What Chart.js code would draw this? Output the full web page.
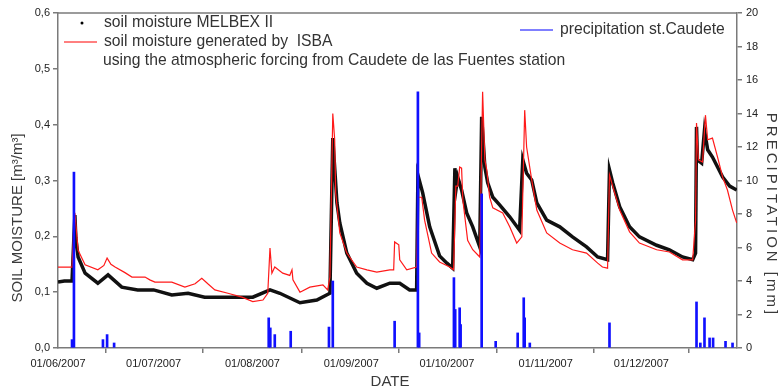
<!DOCTYPE html>
<html>
<head>
<meta charset="utf-8">
<script src="https://cdn.jsdelivr.net/npm/chart.js@4.4.0/dist/chart.umd.min.js"></script>
<style>
  html, body { margin: 0; padding: 0; background: #fff; }
  canvas { display: block; }
</style>
</head>
<body>
<canvas id="chart" width="781" height="392"></canvas>
<script>
// x values are days counted from 01/06/2007
const tickDays = [0, 30, 61, 92, 122, 153, 183];
const tickLabels = ['01/06/2007', '01/07/2007', '01/08/2007', '01/09/2007', '01/10/2007', '01/11/2007', '01/12/2007'];

// soil moisture MELBEX II [m3/m3]
const melbexDays = [0, 2, 4.4, 5.0, 5.3, 5.6, 6.3, 8.5, 12.5, 15.7,
  20, 25, 30, 35.7, 40.8, 46, 51.4, 56.4, 61.1, 66.5,
  69.6, 75.9, 81.2, 85.3, 86.2, 87.5, 88.4, 90.6, 93.7, 96.9,
  100, 104.1, 107.2, 110.3, 112.5, 112.9, 114.4, 116.6, 119.7, 122,
  123.8, 124.5, 125, 125.4, 126.6, 128.2, 130.1, 132.3, 132.9, 133.9,
  134.8, 136.4, 138.6, 141.7, 144.8, 145.8, 147, 148.6, 150.2, 153.3,
  157.4, 161.4, 165.8, 169.3, 172.4, 173, 174, 176.2, 179.3, 182.4,
  187.8, 191.8, 195.9, 199.1, 200, 200.3, 200.6, 201.9, 202.8, 203.8,
  205.3, 208.5, 210.7, 212.9];
const melbexValues = [0.118, 0.12, 0.12, 0.2, 0.238, 0.197, 0.163, 0.134, 0.116, 0.131,
  0.109, 0.104, 0.104, 0.095, 0.098, 0.091, 0.091, 0.091, 0.091, 0.104,
  0.098, 0.081, 0.086, 0.098, 0.376, 0.26, 0.224, 0.17, 0.134, 0.116,
  0.107, 0.116, 0.116, 0.104, 0.104, 0.31, 0.278, 0.217, 0.165, 0.152,
  0.143, 0.322, 0.29, 0.306, 0.283, 0.242, 0.217, 0.181, 0.414, 0.324,
  0.296, 0.27, 0.256, 0.235, 0.211, 0.337, 0.313, 0.301, 0.26, 0.229,
  0.217, 0.199, 0.181, 0.163, 0.158, 0.319, 0.296, 0.253, 0.217, 0.199,
  0.184, 0.176, 0.163, 0.158, 0.17, 0.396, 0.337, 0.331, 0.39, 0.355,
  0.342, 0.306, 0.29, 0.283];

// soil moisture generated by ISBA [m3/m3]
const isbaDays = [0, 4.4, 5.0, 5.3, 6.3, 8.5, 12.5, 14.4, 15.4, 16.6,
  17.9, 21, 23.2, 27.3, 28.8, 30.4, 35.7, 39.8, 43, 45.1,
  47, 49.2, 53.3, 57.7, 61.1, 64.3, 65.8, 66.5, 67.1, 68,
  70.5, 72.7, 73.4, 73.7, 75.9, 79, 83.1, 84.6, 85.3, 86.2,
  86.8, 87.1, 88.4, 90.6, 93.7, 96.9, 100, 104.1, 105.3, 105.6,
  106.9, 107.2, 109.4, 112.5, 112.9, 114.1, 115, 117.2, 119.7, 122.9,
  124.1, 124.8, 125.4, 126, 126.6, 127, 128.5, 130.1, 132.3, 133.2,
  133.9, 134.5, 135.4, 136.4, 139.5, 141.7, 143.9, 145.5, 146.4, 147,
  148.6, 150.2, 153.3, 157.4, 161.4, 165.8, 169.3, 170.8, 172.4, 173,
  174, 176.2, 179.3, 182.4, 187.8, 191.8, 195.9, 199.1, 200, 200.3,
  200.9, 202.2, 203.1, 203.8, 205.3, 206.9, 208.5, 210, 211.6, 212.9];
const isbaValues = [0.145, 0.145, 0.22, 0.242, 0.175, 0.149, 0.14, 0.148, 0.161, 0.15,
  0.145, 0.135, 0.127, 0.127, 0.122, 0.118, 0.118, 0.109, 0.115, 0.125,
  0.115, 0.104, 0.098, 0.091, 0.083, 0.086, 0.098, 0.179, 0.134, 0.145,
  0.134, 0.13, 0.14, 0.122, 0.1, 0.109, 0.113, 0.104, 0.127, 0.42,
  0.373, 0.278, 0.206, 0.17, 0.145, 0.14, 0.136, 0.14, 0.14, 0.19,
  0.185, 0.158, 0.14, 0.145, 0.27, 0.27, 0.229, 0.17, 0.154, 0.145,
  0.14, 0.29, 0.29, 0.324, 0.322, 0.265, 0.193, 0.176, 0.163, 0.459,
  0.337, 0.319, 0.27, 0.251, 0.242, 0.217, 0.188, 0.199, 0.426, 0.36,
  0.301, 0.247, 0.206, 0.188, 0.176, 0.17, 0.152, 0.145, 0.143, 0.31,
  0.29, 0.247, 0.208, 0.188, 0.176, 0.172, 0.158, 0.158, 0.229, 0.403,
  0.337, 0.333, 0.417, 0.373, 0.376, 0.342, 0.306, 0.283, 0.247, 0.224];

// precipitation st.Caudete [mm]
const rainDays = [4.4, 5.0, 14.1, 15.4, 17.6, 66.1, 66.6, 68.0, 73.0, 85.0,
  86.2, 105.6, 112.9, 113.3, 124.2, 124.6, 126.0, 126.3, 132.9, 137.3,
  144.2, 146.1, 146.4, 148.0, 173.0, 200.3, 201.5, 202.8, 204.4, 205.5,
  209.4, 211.6];
const rainValues = [0.5, 10.5, 0.5, 0.8, 0.3, 1.8, 1.2, 0.8, 1.0, 1.25,
  4.0, 1.6, 15.3, 0.9, 4.2, 2.3, 2.4, 1.4, 9.2, 0.4,
  0.9, 3.0, 1.8, 0.3, 1.5, 2.75, 0.3, 1.8, 0.6, 0.6,
  0.4, 0.3];

const toPoints = (xs, ys) => xs.map((x, i) => ({ x: x, y: ys[i] }));

const FONT = "'Liberation Sans', Arial, sans-serif";
const AXIS_GREY = '#7a7a7a';

// frame top line, axis titles and the legend block inside the plot
const decorations = {
    id: 'decorations',
    afterDraw(chart) {
        const ctx = chart.ctx;
        const area = chart.chartArea;
        ctx.save();

        ctx.strokeStyle = AXIS_GREY;
        ctx.lineWidth = 1.5;
        ctx.beginPath();
        ctx.moveTo(area.left, area.top);
        ctx.lineTo(area.right, area.top);
        ctx.stroke();

        // axis titles
        ctx.fillStyle = '#3a3a3a';
        ctx.font = '15px ' + FONT;
        ctx.textAlign = 'center';
        ctx.textBaseline = 'middle';
        ctx.fillText('DATE', 390, 382);

        ctx.save();
        ctx.translate(18, 218);
        ctx.rotate(-Math.PI / 2);
        ctx.fillText('SOIL MOISTURE [m³/m³]', 0, 0);
        ctx.restore();

        ctx.save();
        ctx.translate(771, 215);
        ctx.rotate(Math.PI / 2);
        ctx.letterSpacing = '3px';
        ctx.fillText('PRECIPITATION [mm]', 0, 0);
        ctx.restore();

        // legend
        ctx.font = '15.7px ' + FONT;
        ctx.textAlign = 'left';
        ctx.fillStyle = '#333';

        ctx.beginPath();
        ctx.arc(82, 23, 1.5, 0, Math.PI * 2);
        ctx.fillStyle = '#000';
        ctx.fill();
        ctx.fillStyle = '#333';
        ctx.fillText('soil moisture MELBEX II', 104, 23);

        ctx.strokeStyle = '#ff0000';
        ctx.lineWidth = 1;
        ctx.beginPath();
        ctx.moveTo(64, 42);
        ctx.lineTo(97, 42);
        ctx.stroke();
        ctx.fillText('soil moisture generated by  ISBA', 104, 42);
        ctx.fillText('using the atmospheric forcing from Caudete de las Fuentes station', 103, 61);

        ctx.strokeStyle = '#0000ff';
        ctx.beginPath();
        ctx.moveTo(520, 30);
        ctx.lineTo(553, 30);
        ctx.stroke();
        ctx.fillText('precipitation st.Caudete', 560, 30);

        ctx.restore();
    }
};

const ctx = document.getElementById('chart').getContext('2d');

new Chart(ctx, {
    type: 'line',
    data: {
        datasets: [
            {
                type: 'bar',
                label: 'precipitation st.Caudete',
                data: toPoints(rainDays, rainValues),
                yAxisID: 'y1',
                backgroundColor: '#1010ff',
                barThickness: 2,
                order: 0,
            },
            {
                label: 'soil moisture generated by ISBA',
                data: toPoints(isbaDays, isbaValues),
                yAxisID: 'y',
                borderColor: '#ff1a1a',
                borderWidth: 1.2,
                pointRadius: 0,
                tension: 0,
                order: 1,
            },
            {
                label: 'soil moisture MELBEX II',
                data: toPoints(melbexDays, melbexValues),
                yAxisID: 'y',
                borderColor: '#111',
                borderWidth: 3.5,
                pointRadius: 0,
                tension: 0,
                order: 2,
            },
        ],
    },
    options: {
        responsive: false,
        animation: false,
        layout: { padding: { top: 13, left: 0, right: 0, bottom: 0 } },
        plugins: {
            legend: { display: false },
            tooltip: { enabled: false },
        },
        scales: {
            x: {
                type: 'linear',
                min: 0,
                max: 213,
                offset: false,
                afterBuildTicks: (scale) => {
                    scale.ticks = tickDays.map(d => ({ value: d }));
                },
                afterFit: (scale) => { scale.height = 44; },
                ticks: {
                    autoSkip: false,
                    maxRotation: 0,
                    padding: 4,
                    color: '#222',
                    font: { family: FONT, size: 11 },
                    callback: (value) => tickLabels[tickDays.indexOf(value)] || '',
                },
                grid: { drawOnChartArea: false, tickLength: 5, color: AXIS_GREY, lineWidth: 1.5 },
                border: { color: AXIS_GREY, width: 1.5 },
            },
            y: {
                position: 'left',
                min: 0,
                max: 0.6,
                afterFit: (scale) => { scale.width = 58; },
                ticks: {
                    stepSize: 0.1,
                    padding: 3,
                    color: '#222',
                    font: { family: FONT, size: 11 },
                    callback: (value) => value.toFixed(1).replace('.', ','),
                },
                grid: { drawOnChartArea: false, tickLength: 5, color: AXIS_GREY, lineWidth: 1.5 },
                border: { color: AXIS_GREY, width: 1.5 },
            },
            y1: {
                position: 'right',
                min: 0,
                max: 20,
                afterFit: (scale) => { scale.width = 44; },
                ticks: {
                    stepSize: 2,
                    padding: 4,
                    color: '#222',
                    font: { family: FONT, size: 11 },
                },
                grid: { drawOnChartArea: false, tickLength: 5, color: AXIS_GREY, lineWidth: 1.5 },
                border: { color: AXIS_GREY, width: 1.5 },
            },
        },
    },
    plugins: [decorations],
});
</script>
</body>
</html>
